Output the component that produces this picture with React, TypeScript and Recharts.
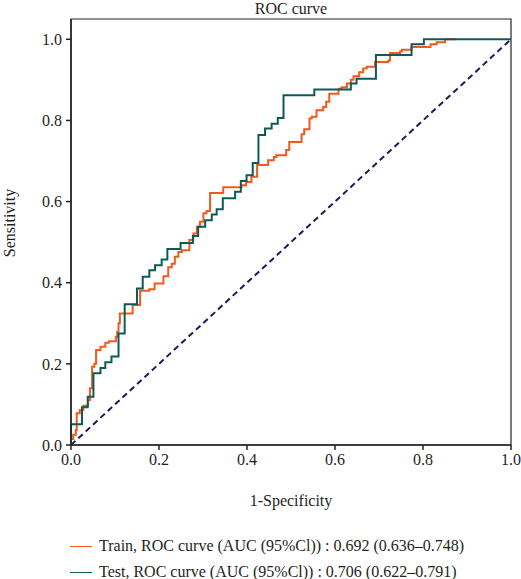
import React from "react";
import { LineChart, Line, XAxis, YAxis, ReferenceArea, Legend, Label } from "recharts";

// Train ROC: x where each vertical rise happens, tpr after the rise
const trainFpr = [0, 0, 0.005, 0.011, 0.013, 0.02, 0.028, 0.039, 0.043, 0.048, 0.053, 0.057, 0.067, 0.078, 0.086, 0.102, 0.105, 0.108, 0.111, 0.14, 0.157, 0.178, 0.19, 0.21, 0.221, 0.229, 0.236, 0.244, 0.252, 0.269, 0.278, 0.286, 0.293, 0.301, 0.308, 0.316, 0.346, 0.388, 0.398, 0.41, 0.423, 0.448, 0.461, 0.467, 0.489, 0.496, 0.524, 0.53, 0.542, 0.547, 0.558, 0.573, 0.58, 0.587, 0.608, 0.615, 0.627, 0.636, 0.642, 0.655, 0.664, 0.672, 0.691, 0.721, 0.725, 0.748, 0.752, 0.774, 0.817, 0.831, 0.85, 0.875];
const trainTpr = [0, 0.015, 0.025, 0.037, 0.078, 0.086, 0.097, 0.111, 0.14, 0.193, 0.2, 0.234, 0.242, 0.252, 0.256, 0.267, 0.279, 0.3, 0.324, 0.345, 0.38, 0.384, 0.398, 0.416, 0.438, 0.447, 0.464, 0.476, 0.48, 0.505, 0.521, 0.538, 0.55, 0.571, 0.577, 0.621, 0.635, 0.64, 0.648, 0.661, 0.69, 0.702, 0.71, 0.714, 0.727, 0.747, 0.766, 0.778, 0.805, 0.809, 0.825, 0.833, 0.846, 0.866, 0.878, 0.882, 0.891, 0.9, 0.909, 0.919, 0.928, 0.932, 0.944, 0.948, 0.966, 0.97, 0.974, 0.981, 0.988, 0.993, 1.0, 1.0];

// Test ROC
const testFpr = [0, 0, 0.025, 0.038, 0.051, 0.067, 0.078, 0.092, 0.108, 0.122, 0.15, 0.163, 0.178, 0.191, 0.206, 0.219, 0.249, 0.277, 0.289, 0.305, 0.32, 0.331, 0.345, 0.373, 0.386, 0.399, 0.413, 0.426, 0.441, 0.456, 0.47, 0.483, 0.553, 0.636, 0.649, 0.693, 0.774, 0.802, 1.0];
const testTpr = [0, 0.051, 0.093, 0.119, 0.177, 0.19, 0.204, 0.218, 0.275, 0.347, 0.386, 0.415, 0.431, 0.443, 0.457, 0.483, 0.498, 0.515, 0.538, 0.554, 0.568, 0.581, 0.608, 0.624, 0.651, 0.665, 0.695, 0.764, 0.78, 0.792, 0.806, 0.862, 0.876, 0.891, 0.903, 0.961, 0.988, 1.0, 1.0];

const chanceFpr = [0, 1];
const chanceTpr = [0, 1];

const axisTicks = [0, 0.2, 0.4, 0.6, 0.8, 1.0];
const seriesNames = [
  "Train, ROC curve (AUC (95%Cl)) : 0.692 (0.636–0.748)",
  "Test, ROC curve (AUC (95%Cl)) : 0.706 (0.622–0.791)",
];

const FONT = "'Liberation Serif', 'DejaVu Serif', serif";
const FS = 16;
const TEXT = "#231f20";
const COLORS = ["#f05a1e", "#0e5b56", "#1b1b5c"];

const toPoints = (xs: number[], ys: number[]) => xs.map((fpr, i) => ({ fpr, tpr: ys[i] }));

const trainData = toPoints(trainFpr, trainTpr);
const testData = toPoints(testFpr, testTpr);
const chanceData = toPoints(chanceFpr, chanceTpr);

const renderLegend = (props: any) => {
  // keep Train above Test, like the original
  const items = (props.payload || [])
    .filter((p: any) => p.type !== "none")
    .sort((a: any, b: any) => seriesNames.indexOf(a.value) - seriesNames.indexOf(b.value));
  return (
    <div style={{ fontFamily: FONT, fontSize: FS, color: TEXT }}>
      {items.map((p: any) => (
        <div key={p.value} style={{ display: "flex", alignItems: "center", height: 26 }}>
          <span style={{ display: "inline-block", width: 22, height: 0, borderTop: `1.5px solid ${p.color}`, marginRight: 7 }} />
          <span>{p.value}</span>
        </div>
      ))}
    </div>
  );
};

export default function App() {
  const tickStyle = { fontFamily: FONT, fontSize: FS, fill: TEXT };
  return (
    <div style={{ position: "absolute", left: 0, top: 0, width: 521, height: 579, background: "#fff" }}>
      <div
        style={{
          position: "absolute",
          left: 71,
          width: 440,
          top: 0,
          textAlign: "center",
          fontFamily: FONT,
          fontSize: FS,
          color: TEXT,
          lineHeight: "18px",
        }}
      >
        ROC curve
      </div>
      <LineChart width={521} height={579} margin={{ top: 19, right: 10, bottom: 0, left: 0 }}>
        <XAxis
          type="number"
          dataKey="fpr"
          domain={[0, 1]}
          ticks={axisTicks}
          tickFormatter={(v: number) => v.toFixed(1)}
          tick={tickStyle}
          tickSize={5}
          tickMargin={4}
          height={134}
          stroke="#222"
          strokeWidth={1.5}
          allowDuplicatedCategory={false}
        >
          <Label
            content={({ viewBox }: any) => (
              <text
                x={viewBox.x + viewBox.width / 2}
                y={viewBox.y + 61}
                textAnchor="middle"
                style={{ fontFamily: FONT, fontSize: FS, fill: TEXT }}
              >
                1-Specificity
              </text>
            )}
          />
        </XAxis>
        <YAxis
          type="number"
          dataKey="tpr"
          domain={[0, 1.05]}
          ticks={axisTicks}
          tickFormatter={(v: number) => v.toFixed(1)}
          tick={tickStyle}
          tickSize={5}
          tickMargin={4}
          width={71}
          stroke="#222"
          strokeWidth={1.5}
          allowDataOverflow
        >
          <Label
            content={({ viewBox }: any) => {
              const cx = 15;
              const cy = viewBox.y + viewBox.height / 2 - 9;
              return (
                <text
                  x={cx}
                  y={cy}
                  transform={`rotate(-90 ${cx} ${cy})`}
                  textAnchor="middle"
                  style={{ fontFamily: FONT, fontSize: FS, fill: TEXT }}
                >
                  Sensitivity
                </text>
              );
            }}
          />
        </YAxis>
        <ReferenceArea
          x1={0}
          x2={1}
          y1={0}
          y2={1.05}
          fill="none"
          stroke="#222"
          strokeWidth={1.2}
          ifOverflow="visible"
        />
        <Line
          data={trainData}
          dataKey="tpr"
          name={seriesNames[0]}
          type="stepAfter"
          stroke={COLORS[0]}
          strokeWidth={2}
          dot={false}
          activeDot={false}
          isAnimationActive={false}
        />
        <Line
          data={testData}
          dataKey="tpr"
          name={seriesNames[1]}
          type="stepAfter"
          stroke={COLORS[1]}
          strokeWidth={2}
          dot={false}
          activeDot={false}
          isAnimationActive={false}
        />
        <Line
          data={chanceData}
          dataKey="tpr"
          name="chance"
          type="linear"
          stroke={COLORS[2]}
          strokeWidth={2}
          strokeDasharray="6 4"
          dot={false}
          activeDot={false}
          legendType="none"
          isAnimationActive={false}
        />
        <Legend
          layout="horizontal"
          verticalAlign="middle"
          align="center"
          content={renderLegend}
          wrapperStyle={{ left: 70, top: 533, width: 450, height: "auto" }}
        />
      </LineChart>
    </div>
  );
}
